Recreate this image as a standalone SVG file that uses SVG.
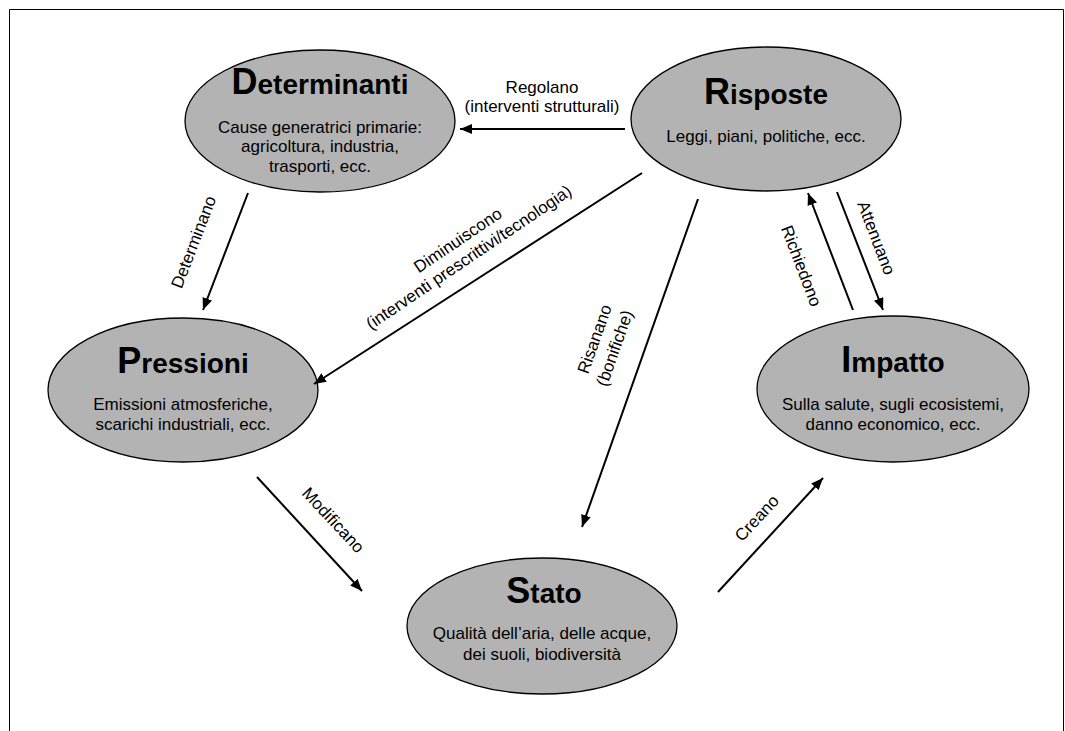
<svg xmlns="http://www.w3.org/2000/svg" width="1065" height="731" viewBox="0 0 1065 731">
<style>
.node ellipse{fill:#b3b3b3;stroke:#000;stroke-width:1.3}
text{font-family:"Liberation Sans",Arial,sans-serif;fill:#000}
.t{font-weight:bold;font-size:28px;text-anchor:middle}
.t .b{font-size:36px}
.s{font-size:17px;text-anchor:middle}
.lbl{font-size:17px;text-anchor:middle}
.conn line{stroke:#000;stroke-width:2;marker-end:url(#ah)}
</style>
<defs>
<marker id="ah" viewBox="0 0 12 10" refX="12" refY="5" markerWidth="12" markerHeight="10" markerUnits="userSpaceOnUse" orient="auto"><path d="M0,0 L12,5 L0,10 z" fill="#000"/></marker>
</defs>
<rect width="1065" height="731" fill="#fff"/>
<path d="M9.5,731 V9.5 H1063.5 V731" fill="none" stroke="#000" stroke-width="1"/>

<g id="determinanti" class="node">
<ellipse cx="320" cy="121" rx="135" ry="71"/>
<text class="t" x="320" y="94"><tspan class="b">D</tspan>eterminanti</text>
<text class="s" x="320" y="133">Cause generatrici primarie:</text>
<text class="s" x="320" y="152">agricoltura, industria,</text>
<text class="s" x="320" y="172">trasporti, ecc.</text>
</g>

<g id="risposte" class="node">
<ellipse cx="766" cy="119" rx="135" ry="72"/>
<text class="t" x="766" y="104"><tspan class="b">R</tspan>isposte</text>
<text class="s" x="766" y="142">Leggi, piani, politiche, ecc.</text>
</g>

<g id="pressioni" class="node">
<ellipse cx="183" cy="390" rx="135" ry="72"/>
<text class="t" x="183" y="373"><tspan class="b">P</tspan>ressioni</text>
<text class="s" x="183" y="410">Emissioni atmosferiche,</text>
<text class="s" x="183" y="430">scarichi industriali, ecc.</text>
</g>

<g id="impatto" class="node">
<ellipse cx="893" cy="389" rx="136" ry="73"/>
<text class="t" x="893" y="372"><tspan class="b">I</tspan>mpatto</text>
<text class="s" x="893" y="410">Sulla salute, sugli ecosistemi,</text>
<text class="s" x="893" y="430">danno economico, ecc.</text>
</g>

<g id="stato" class="node">
<ellipse cx="542" cy="626" rx="135" ry="68"/>
<text class="t" x="544" y="603"><tspan class="b">S</tspan>tato</text>
<text class="s" x="542" y="639">Qualità dell’aria, delle acque,</text>
<text class="s" x="542" y="660">dei suoli, biodiversità</text>
</g>

<g id="connectors" class="conn">
<line x1="625" y1="129" x2="460" y2="129"/>
<line x1="248" y1="193" x2="203" y2="310"/>
<line x1="642" y1="173" x2="314" y2="384"/>
<line x1="698" y1="199" x2="582" y2="527"/>
<line x1="853" y1="310" x2="808" y2="193"/>
<line x1="837" y1="192" x2="883" y2="310"/>
<line x1="257" y1="477" x2="362" y2="591"/>
<line x1="718" y1="592" x2="823" y2="478"/>
</g>

<g id="labels">
<text class="lbl" x="542" y="93">Regolano</text>
<text class="lbl" x="542" y="112">(interventi strutturali)</text>
<text class="lbl" transform="translate(199,244) rotate(-69)">Determinano</text>
<text class="lbl" transform="translate(461,245) rotate(-34)">Diminuiscono</text>
<text class="lbl" transform="translate(472,262) rotate(-34)">(interventi prescrittivi/tecnologia)</text>
<text class="lbl" transform="translate(600,341) rotate(-70.5)">Risanano</text>
<text class="lbl" transform="translate(620,350) rotate(-70.5)">(bonifiche)</text>
<text class="lbl" transform="translate(796,268) rotate(69)">Richiedono</text>
<text class="lbl" transform="translate(871,240) rotate(69)">Attenuano</text>
<text class="lbl" transform="translate(329,524) rotate(47)">Modificano</text>
<text class="lbl" transform="translate(761,522) rotate(-47)">Creano</text>
</g>
</svg>
